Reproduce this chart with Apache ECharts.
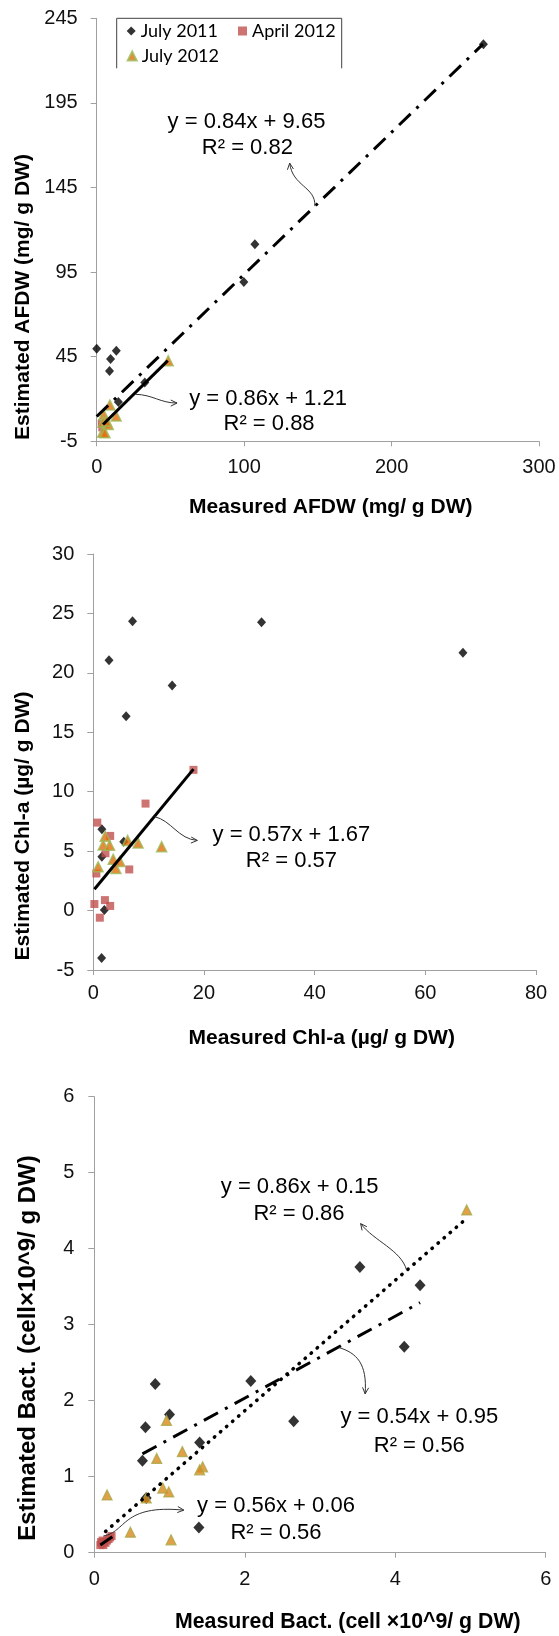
<!DOCTYPE html>
<html><head><meta charset="utf-8">
<script src="https://cdn.jsdelivr.net/npm/echarts@6/dist/echarts.min.js"></script>
<style>html,body{margin:0;padding:0;background:#fff}#c{width:559px;height:1636px}</style>
</head><body><div id="c"></div>
<script>
// ---------- Panel 1: AFDW (mg/ g DW) ----------
const afdwYTicks = [-5, 45, 95, 145, 195, 245];
const july2011_afdw = [[0,49.7],[262.3,229.6],[107.3,111.5],[99.8,89.1],[9.4,43.6],[13.3,48.5],[8.7,36.5],[32.6,29.8],[14.7,18.2]];
const april2012_afdw = [[3.4,5.4],[3.8,3.2]];
const july2012_afdw = [[48.5,42.6],[8.9,16.4],[4.8,10.7],[13.2,9.9],[4.4,6.3],[7.9,4.9],[4.0,0.3],[5.6,0.0],[6.5,7.0]];
const trend2011_afdw = [[0,9.65],[262,229.7]];
const trend2012_afdw = [[4.3,4.9],[48.2,42.7]];

// ---------- Panel 2: Chl-a (µg/ g DW) ----------
const july2011_chl = [[7.09,24.35],[30.4,24.26],[66.8,21.7],[2.84,21.06],[14.25,18.94],[5.93,16.35],[1.55,6.85],[5.5,5.8],[1.55,4.52],[2.0,0.05],[1.5,-4.0]];
const april2012_chl = [[18.1,11.84],[9.44,9.0],[0.72,7.4],[3.05,6.28],[2.2,4.82],[0.55,3.12],[6.5,3.46],[0.2,0.55],[2.1,0.88],[3.05,0.39],[1.18,-0.6]];
const july2012_chl = [[2.15,6.25],[6.2,5.9],[8.1,5.68],[1.8,5.52],[2.95,5.49],[12.35,5.38],[3.6,4.32],[4.82,4.13],[0.87,3.68],[4.08,3.55]];
const trend_chl = [[0.2,1.8],[18.1,11.9]];

// ---------- Panel 3: Bact. (cell x10^9/ g DW) ----------
const july2011_bact = [[3.53,3.76],[4.33,3.52],[4.12,2.71],[2.08,2.26],[0.81,2.22],[2.65,1.73],[1.0,1.82],[0.68,1.65],[1.40,1.45],[0.64,1.21],[1.39,0.33],[0.69,0.72]];
const april2012_bact = [[0.08,0.10],[0.10,0.12],[0.12,0.10],[0.13,0.14],[0.15,0.13],[0.17,0.16],[0.19,0.18],[0.21,0.20],[0.23,0.22],[0.09,0.14],[0.11,0.16]];
const july2012_bact = [[4.95,4.51],[0.96,1.74],[1.17,1.33],[0.83,1.24],[1.44,1.13],[1.40,1.09],[0.17,0.76],[0.69,0.72],[0.91,0.85],[0.99,0.80],[0.48,0.27],[1.02,0.17]];
const trend2012_bact = [[0.15,0.28],[4.95,4.40]];
const trend2011_bact = [[0.64,1.30],[4.33,3.29]];
const trendApr_bact = [[0.08,0.10],[0.24,0.21]];

// ---------- Text ----------
const legendNames = ['July 2011','April 2012','July 2012'];
const eqText = {
  p1a: ['y = 0.84x + 9.65','R\u00b2 = 0.82'],
  p1b: ['y = 0.86x + 1.21','R\u00b2 = 0.88'],
  p2:  ['y = 0.57x + 1.67','R\u00b2 = 0.57'],
  p3a: ['y = 0.86x + 0.15','R\u00b2 = 0.86'],
  p3b: ['y = 0.54x + 0.95','R\u00b2 = 0.56'],
  p3c: ['y = 0.56x + 0.06','R\u00b2 = 0.56']
};
const axisTitles = {
  x1: 'Measured AFDW (mg/ g DW)', y1: 'Estimated AFDW (mg/ g DW)',
  x2: 'Measured Chl-a (\u00b5g/ g DW)', y2: 'Estimated Chl-a (\u00b5g/ g DW)',
  x3: 'Measured Bact. (cell \u00d710^9/ g DW)', y3: 'Estimated Bact. (cell\u00d710^9/ g DW)'
};

const FONT = '"Liberation Sans", Arial, sans-serif';
const AXC = '#a0a0a0';
const C2011 = '#000000', CAPR = '#c0504d', C2012 = '#e46c0a', C2012B = '#9bbb59';
const C2012_3 = '#d98a1c', C2012B_3 = '#a8a848';

function xAx(g, min, max, interval, margin){
  return {type:'value', gridIndex:g, min, max, interval,
    axisLine:{show:true, onZero:false, lineStyle:{color:AXC, width:1}},
    axisTick:{show:true, length:5, lineStyle:{color:AXC}},
    splitLine:{show:false},
    axisLabel:{margin, color:'#111', fontFamily:FONT, fontSize:20}};
}
function yAx(g, min, max, interval, margin){
  const a = xAx(g, min, max, interval, margin);
  a.axisTick.length = 6;
  return a;
}
const y1 = yAx(0, -5, 245, 50, 19);
y1.axisLabel.customValues = afdwYTicks;
y1.axisTick.customValues = afdwYTicks;

function sc(name, data, g, kind, big){
  const s = {type:'scatter', name, data, xAxisIndex:g, yAxisIndex:g, z:2};
  if (kind === 0){ s.symbol='diamond'; s.symbolSize = big?[11,12]:[9,10]; s.itemStyle={color:C2011}; }
  if (kind === 1){ s.symbol='rect'; s.symbolSize = 8; s.itemStyle={color:CAPR}; }
  if (kind === 2){ s.symbol='triangle'; s.symbolSize = 10;
    s.itemStyle = big ? {color:C2012_3, borderColor:C2012B_3, borderWidth:1.2} : {color:C2012, borderColor:C2012B, borderWidth:1.5}; }
  return s;
}
function ln(data, g, type, width){
  return {type:'line', data, xAxisIndex:g, yAxisIndex:g, symbol:'none', silent:true, z:3,
    lineStyle:{color:'#000', width:width||3, type:type||'solid', cap: Array.isArray(type) && type[0] < 1 ? 'round' : 'butt'}};
}

const chart = echarts.init(document.getElementById('c'));
chart.setOption({
  animation:false,
  backgroundColor:'#fff',
  grid:[
    {left:96.7, top:18.3, width:442.3, height:423},
    {left:93.3, top:554, width:442.7, height:416},
    {left:94.3, top:1096.7, width:451.4, height:456}
  ],
  xAxis:[ xAx(0,0,300,100,16.5), xAx(1,0,80,20,13), xAx(2,0,6,2,17) ],
  yAxis:[ y1, yAx(1,-5,30,5,19), yAx(2,0,6,1,20) ],
  legend:[
    {data:[{name:legendNames[0], icon:'diamond'},{name:legendNames[1], icon:'rect'}], left:126.7, top:22, itemWidth:9, itemHeight:9, itemGap:20, padding:0,
      textStyle:{fontFamily:'Lato, "Open Sans", sans-serif', fontSize:18, color:'#000'}},
    {data:[{name:legendNames[2], icon:'triangle'}], left:126.7, top:47, itemWidth:9, itemHeight:9, padding:0,
      textStyle:{fontFamily:'Lato, "Open Sans", sans-serif', fontSize:18, color:'#000'}}
  ],
  series:[
    sc(legendNames[0], july2011_afdw, 0, 0),
    sc(legendNames[1], april2012_afdw, 0, 1),
    sc(legendNames[2], july2012_afdw, 0, 2),
    ln(trend2011_afdw, 0, [16,8,3,8], 3),
    ln(trend2012_afdw, 0, 'solid', 3),
    sc(legendNames[0], july2011_chl, 1, 0),
    sc(legendNames[1], april2012_chl, 1, 1),
    sc(legendNames[2], july2012_chl, 1, 2),
    ln(trend_chl, 1, 'solid', 3),
    sc(legendNames[0], july2011_bact, 2, 0, true),
    sc(legendNames[1], april2012_bact, 2, 1, true),
    sc(legendNames[2], july2012_bact, 2, 2, true),
    ln(trend2012_bact, 2, [0.5,7.5], 3.5),
    ln(trend2011_bact, 2, [16,8,3,8], 3),
    ln(trendApr_bact, 2, 'solid', 3)
  ]
});

// ---------- Annotations (positioned in data space of each grid) ----------
const eqPos = {
  p1a:[0,[101.6,183.7],[102.2,168.3]], p1b:[0,[116.2,20],[116.9,5]],
  p2:[1,[35.8,6.36],[35.8,4.17]],
  p3a:[2,[2.73,4.81],[2.72,4.46]], p3b:[2,[4.32,1.79],[4.32,1.40]], p3c:[2,[2.415,0.61],[2.415,0.26]]
};
const arrows = [
  [0,[148,134],[148.5,145.6],[132.8,145.6],[130.9,159.4]],
  [0,[26.2,22.8],[38.3,22.5],[43.1,17.6],[54.5,17.6]],
  [1,[11.06,7.9],[14.07,7.6],[15.37,6.0],[18.8,5.9]],
  [2,[4.15,3.72],[4.08,3.98],[3.72,4.10],[3.54,4.33]],
  [2,[3.25,2.70],[3.485,2.63],[3.63,2.49],[3.60,2.09]],
  [2,[0.12,0.22],[0.43,0.27],[0.36,0.64],[1.19,0.56]]
];
const P = (g, p) => chart.convertToPixel({gridIndex:g}, p);
const gfx = [];
Object.keys(eqPos).forEach(k => {
  const [g, a, b] = eqPos[k];
  [a, b].forEach((pt, i) => {
    const q = P(g, pt);
    gfx.push({type:'text', x:q[0], y:q[1], z:10, style:{text:eqText[k][i], font:'22px ' + FONT, fill:'#000', textAlign:'center', textVerticalAlign:'middle'}});
  });
});
arrows.forEach(([g, p0, c1, c2, p3]) => {
  const a = P(g,p0), b = P(g,c1), c = P(g,c2), d = P(g,p3);
  gfx.push({type:'bezierCurve', z:10, shape:{x1:a[0],y1:a[1],cpx1:b[0],cpy1:b[1],cpx2:c[0],cpy2:c[1],x2:d[0],y2:d[1]}, style:{stroke:'#333', lineWidth:1, fill:null}});
  const ang = Math.atan2(d[1]-c[1], d[0]-c[0]);
  const L = 7, w = 0.45;
  gfx.push({type:'polyline', z:10, shape:{points:[
    [d[0]-L*Math.cos(ang-w), d[1]-L*Math.sin(ang-w)], d, [d[0]-L*Math.cos(ang+w), d[1]-L*Math.sin(ang+w)]]},
    style:{stroke:'#333', lineWidth:1, fill:null}});
});
// legend frame (top, left, right sides visible)
gfx.push({type:'polyline', z:10, shape:{points:[[116.7,68.3],[116.7,18.3],[341.7,18.3],[341.7,68.3]]}, style:{stroke:'#404040', lineWidth:1, fill:null}});
// axis titles
const titles = [
  [axisTitles.x1, 330.7, 507, 0, 21], [axisTitles.y1, 23.7, 297, Math.PI/2, 21],
  [axisTitles.x2, 321.7, 1038, 0, 21], [axisTitles.y2, 23.2, 826, Math.PI/2, 21],
  [axisTitles.x3, 347.8, 1622, 0, 21.3], [axisTitles.y3, 28.5, 1348, Math.PI/2, 24]
];
titles.forEach(([t, x, y, r, fs]) => {
  gfx.push({type:'text', x, y, rotation:r, z:10, style:{text:t, font:'bold ' + fs + 'px ' + FONT, fill:'#000', textAlign:'center', textVerticalAlign:'middle'}});
});
chart.setOption({graphic: gfx});
</script></body></html>
